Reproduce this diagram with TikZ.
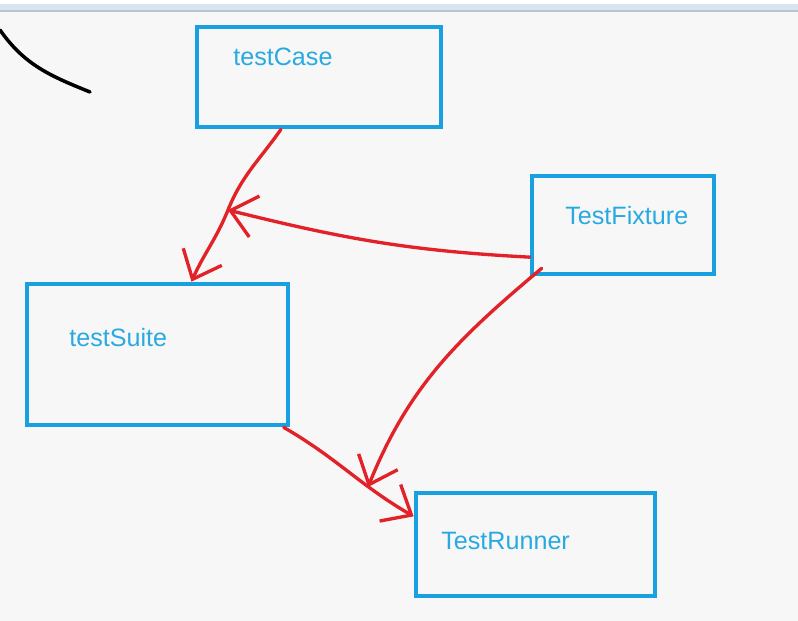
\documentclass[tikz,border=0pt]{standalone}
\usepackage{fontspec}
\setmainfont{Liberation Sans}
\usetikzlibrary{arrows.meta}
\definecolor{boxblue}{RGB}{24,160,225}
\definecolor{txtblue}{RGB}{40,170,225}
\definecolor{penred}{RGB}{226,34,40}
\definecolor{paper}{RGB}{247,247,247}
\definecolor{barblue}{RGB}{216,229,241}
\definecolor{barline}{RGB}{184,196,212}

\begin{document}
\begin{tikzpicture}[x=0.02cm, y=-0.02cm,
  box/.style={draw=boxblue, line width=2.7pt, inner sep=0pt},
  lbl/.style={text=txtblue, anchor=west, inner sep=0pt, font=\fontsize{14.3}{16}\selectfont},
  pen/.style={draw=penred, line width=1.9pt, line cap=round, line join=round,
    -{Straight Barb[length=14pt, width=24pt, line width=1.9pt]}}]
\useasboundingbox (0,0) rectangle (798,621);
\fill[paper] (0,0) rectangle (798,621);
% window bar at the top
\fill[white] (0,0) rectangle (798,4);
\fill[barblue] (0,4) rectangle (798,10);
\fill[barline] (0,10) rectangle (798,12);

\node[box, minimum width=4.88cm, minimum height=2cm] (case) at (319,77) {};
\node[lbl] (caseLbl) at (233,57) {testCase};
\node[box, minimum width=3.64cm, minimum height=1.96cm] (fixture) at (623,225) {};
\node[lbl] (fixtureLbl) at (565,216) {TestFixture};
\node[box, minimum width=5.22cm, minimum height=2.82cm] (suite) at (157.5,354.5) {};
\node[lbl] (suiteLbl) at (69,338) {testSuite};
\node[box, minimum width=4.78cm, minimum height=2.06cm] (runner) at (535.5,544.5) {};
\node[lbl] (runnerLbl) at (441,541) {TestRunner};

\coordinate (join) at (228,210);
\coordinate (tip) at (368,487);

% the stray stroke
\draw[line width=2pt, line cap=round] (0,30) to[out=-55, in=158] (90,92);

\draw[pen] (case.234) to[out=235, in=68] (join) to[out=248, in=66] (suite.65);
\draw[pen] (fixture.199) to[out=177, in=-14] (join);
\draw[pen] (fixture.south west) ++(12,-8) to[out=220, in=68] (tip);
\draw[pen] (suite.330) to[out=-30, in=150] (runner.167);
\end{tikzpicture}
\end{document}
